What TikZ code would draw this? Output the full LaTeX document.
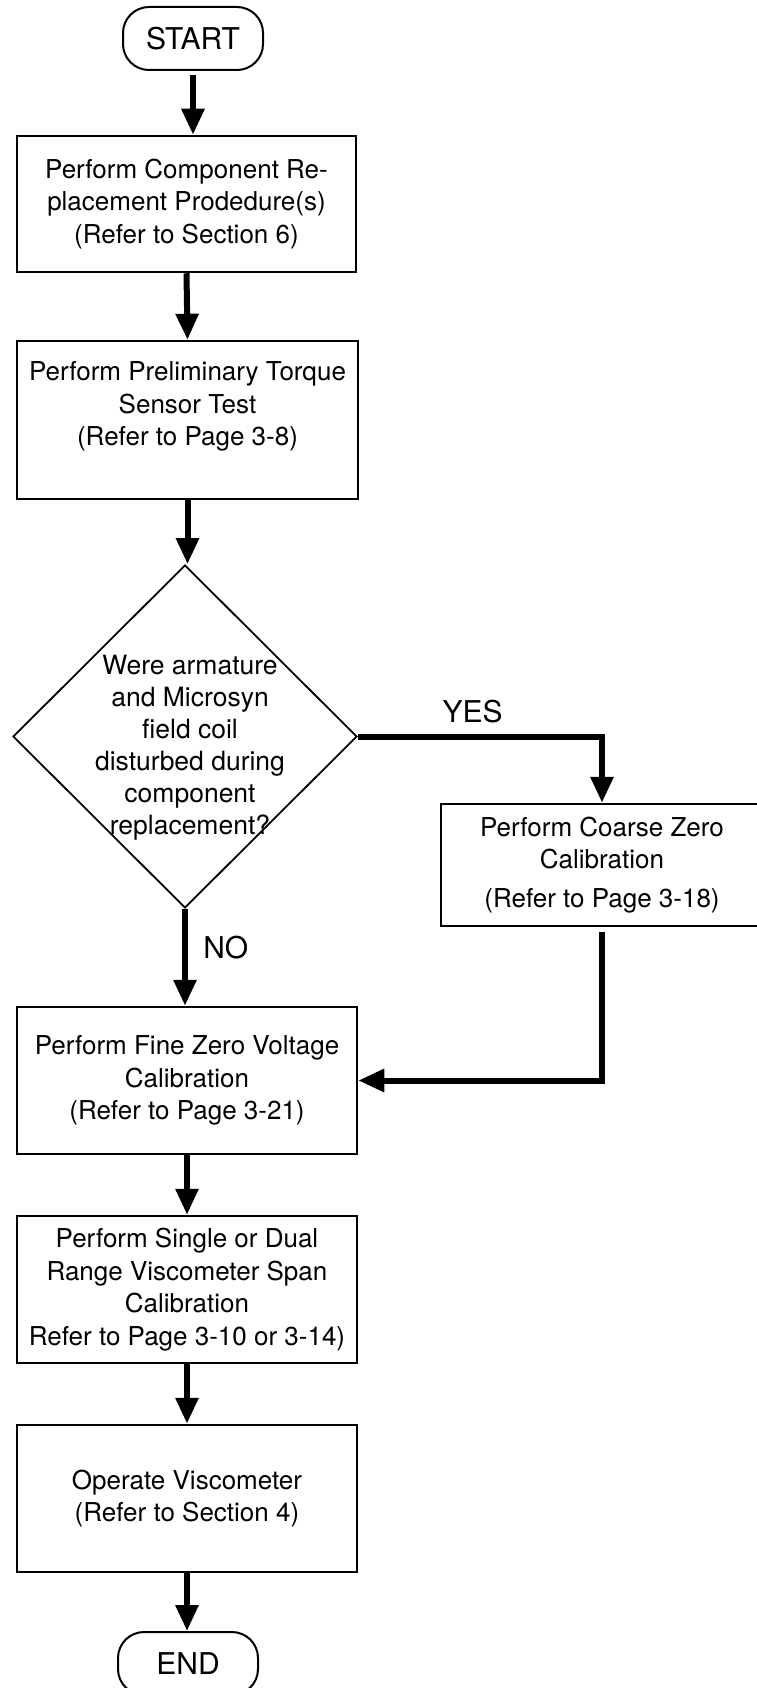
\documentclass[tikz,border=0pt]{standalone}
\usepackage{fontspec}
\setmainfont{TeX Gyre Heros}
\usetikzlibrary{arrows.meta,shapes.geometric}

\tikzset{
  stepbox/.style={draw, line width=2.5pt, align=center, minimum width=340pt, minimum height=147pt, inner sep=0pt, font=\fontsize{26}{32.5}\selectfont},
  terminal/.style={draw, line width=2pt, rounded corners=26pt, minimum width=140pt, minimum height=63pt, inner sep=0pt, font=\fontsize{30}{36}\selectfont},
  decision/.style={diamond, draw, line width=1.8pt, minimum width=344pt, minimum height=343pt, inner sep=0pt},
  flow/.style={line width=6pt, -{Triangle[length=26pt,width=22pt]}},
  answer/.style={font=\fontsize{30}{36}\selectfont},
}

\begin{document}
\begin{tikzpicture}[x=1pt, y=-1pt]
  \useasboundingbox (0,0) rectangle (757,1688);

  % main column
  \node[terminal] (start) at (193,38.5) {START};
  \node[stepbox, minimum width=339pt, minimum height=136pt] (replace) at (186.5,204) {Perform Component Re-\\placement Prodedure(s)\\(Refer to Section 6)};
  \node[stepbox, minimum width=341pt, minimum height=158pt] (torque) at (187.5,420) {Perform Preliminary Torque\\Sensor Test\\(Refer to Page 3-8)\\ \mbox{}};
  \node[decision] (disturbed) at (185,736.5) {};
  \node[align=center, font=\fontsize{26.5}{32}\selectfont] (question) at ([xshift=5pt,yshift=-11pt]disturbed.center) {Were armature\\and Microsyn\\field coil\\disturbed during\\component\\replacement?};
  \node[stepbox] (finezero) at (187,1080.5) {Perform Fine Zero Voltage\\Calibration\\(Refer to Page 3-21)};
  \node[stepbox] (span) at (187,1289.5) {Perform Single or Dual\\Range Viscometer Span\\Calibration\\Refer to Page 3-10 or 3-14)};
  \node[stepbox] (operate) at (187,1498.5) {Operate Viscometer\\(Refer to Section 4)};
  \node[terminal] (stop) at (188,1663.5) {END};

  % yes branch
  \node[stepbox, minimum width=322pt, minimum height=122pt] (coarse) at (602,865) {Perform Coarse Zero\\Calibration\\[6pt](Refer to Page 3-18)};

  % connectors
  \draw[flow, shorten <=4pt] (start.south) -- (start.south |- replace.north);
  \draw[flow] (replace.south) -- (torque.north);
  \draw[flow] (torque.south) -- (torque.south |- disturbed.north);
  \draw[flow] (disturbed.east) -| node[pos=0.235, above=7pt, answer] {YES} (coarse.north);
  \draw[flow] (disturbed.south) -- node[pos=0.4, right=12pt, answer] {NO} (disturbed.south |- finezero.north);
  \draw[flow, shorten <=5pt] (coarse.south) |- (finezero.east);
  \draw[flow] (finezero.south) -- (span.north);
  \draw[flow] (span.south) -- (operate.north);
  \draw[flow] (operate.south) -- (operate.south |- stop.north);
\end{tikzpicture}
\end{document}
